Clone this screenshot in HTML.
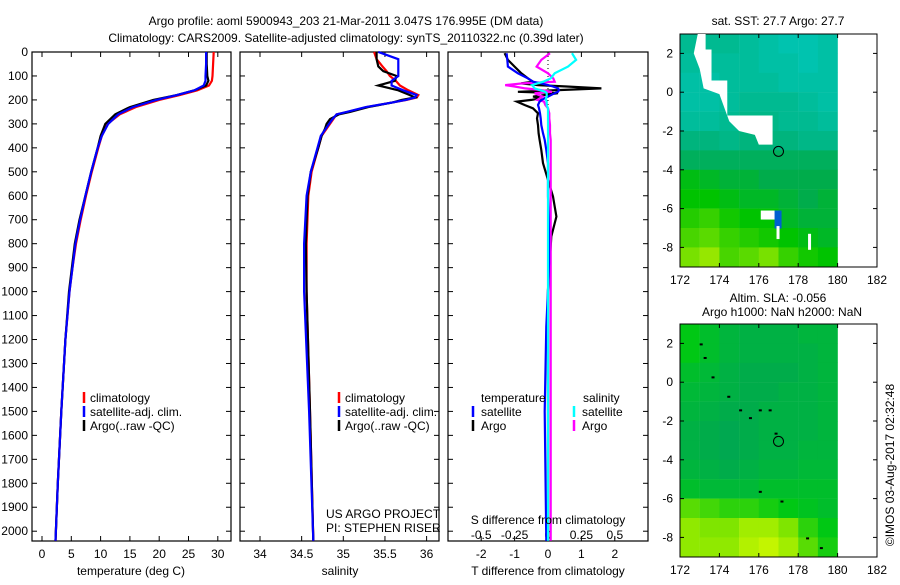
<!DOCTYPE html>
<html><head><meta charset="utf-8"><style>
body{margin:0;background:#fff;}
svg text{font-family:"Liberation Sans",sans-serif;font-size:12px;fill:#000;}
</style></head><body>
<svg id="s" width="900" height="580" xmlns="http://www.w3.org/2000/svg">
<text x="346" y="25" text-anchor="middle">Argo profile: aoml 5900943_203 21-Mar-2011 3.047S 176.995E (DM data)</text>
<text x="346" y="42" text-anchor="middle">Climatology: CARS2009. Satellite-adjusted climatology: synTS_20110322.nc (0.39d later)</text>
</svg>
<script>
// ---------- data ----------
const tDepth=[0,50,100,120,140,160,180,200,230,260,300,350,400,500,600,700,800,900,1000,1200,1500,1800,2040];
const tClim=[29.3,29.2,29.1,29.0,28.5,26.5,23.5,20,16,13.3,11.2,10.2,9.6,8.5,7.5,6.6,5.8,5.2,4.7,4.0,3.3,2.7,2.3];
const tSat=[28.0,28.0,27.9,27.9,27.6,26,23,19.5,15.5,13,11.3,10.2,9.5,8.4,7.4,6.5,5.7,5.2,4.7,4.0,3.3,2.7,2.3];
const tArgo=[28.1,28.1,28.2,28.4,28.0,26,23,19,15,12.5,10.8,10.0,9.5,8.4,7.4,6.4,5.6,5.1,4.6,4.0,3.3,2.7,2.3];
const sDepth=[0,30,60,80,100,120,140,160,180,190,200,210,230,250,260,280,300,320,350,400,500,600,800,1000,1500,2040];
const sClim=[35.37,35.40,35.47,35.52,35.56,35.63,35.68,35.78,35.9,35.88,35.76,35.6,35.28,35.05,34.92,34.88,34.84,34.80,34.74,34.70,34.62,34.58,34.56,34.56,34.60,34.64];
const sSat=[35.42,35.66,35.66,35.66,35.66,35.58,35.58,35.72,35.88,35.86,35.75,35.6,35.27,35.04,34.92,34.87,34.83,34.79,34.73,34.69,34.61,34.56,34.53,34.53,34.59,34.64];
const sArgo=[35.40,35.40,35.42,35.48,35.64,35.62,35.42,35.66,35.80,35.86,35.7,35.6,35.3,35.08,34.95,34.84,34.80,34.78,34.74,34.70,34.61,34.57,34.55,34.56,34.60,34.64];
const dDepth=[5,33,61,89,110,124,131,138,144,152,159,166,172,186,193,200,207,221,235,256,277,305,339,367,409,464,603,687,770,882,993,1146,1500,2040];
const dTSat=[-1.24,-1.22,-1.2,-0.9,-0.6,-0.45,-0.2,0.0,0.15,0.3,0.33,0.3,0.2,0.0,-0.1,-0.19,-0.25,-0.3,-0.27,-0.24,-0.22,-0.2,-0.15,-0.1,-0.05,0.0,0.0,0.02,0.03,0.03,0.0,-0.05,-0.1,-0.05];
const dTArgo=[-1.3,-1.2,-1.0,-0.8,-0.6,-0.45,-0.8,-0.3,0.56,1.6,0.3,-0.9,0.3,-0.45,-0.2,-0.5,-0.93,-0.7,-0.45,-0.3,-0.33,-0.3,-0.28,-0.25,-0.2,-0.15,0.15,0.25,0.1,0.05,0.0,0.0,0.0,0.0];
const dSSat=[0.18,0.21,0.15,0.05,0.02,-0.035,-0.08,-0.12,-0.11,-0.1,-0.06,-0.02,-0.01,-0.01,-0.015,-0.015,-0.01,-0.01,0.0,0.0,0.0,0.0,0.0,0.0,0.0,0.0,0.0,0.0,0.0,0.0,0.0,0.0,0.0,0.0];
const dSArgo=[0.015,-0.05,-0.085,0.0,0.04,0.05,-0.19,-0.32,-0.25,-0.17,-0.05,0.03,-0.1,-0.04,-0.06,-0.08,-0.03,-0.02,0.0,0.01,0.01,0.015,0.015,0.02,0.02,0.02,0.02,0.02,0.02,0.02,0.02,0.02,0.02,0.02];
const depthTicks=[0,100,200,300,400,500,600,700,800,900,1000,1100,1200,1300,1400,1500,1600,1700,1800,1900,2000];
const tTicks=[0,5,10,15,20,25,30];
const sTicks=["34","34.5","35","35.5","36"];
const dTTicks=[-2,-1,0,1,2];
const dSTickLabels=["-0.5","-0.25","0","0.25","0.5"];
const lonTicks=[172,174,176,178,180,182];
const latTicks=[2,0,-2,-4,-6,-8];
const sstGrid=[
[28.0,28.0,28.0,27.9,27.8,27.7,27.7,27.8],
[27.9,27.9,27.9,27.9,27.8,27.8,27.7,27.8],
[27.8,27.8,27.9,27.9,27.9,27.8,27.8,27.8],
[27.8,27.8,27.9,28.0,28.0,28.0,27.9,27.8],
[27.9,27.9,28.0,28.1,28.1,28.0,28.0,27.9],
[28.2,28.2,28.1,28.2,28.2,28.2,28.1,28.1],
[28.4,28.4,28.4,28.4,28.4,28.4,28.4,28.4],
[28.8,28.7,28.6,28.6,28.5,28.5,28.5,28.5],
[28.9,28.9,28.8,28.7,28.7,28.6,28.5,28.6],
[29.1,29.2,29.0,28.9,28.9,28.7,28.6,28.6],
[29.3,29.4,29.2,29.1,29.0,28.9,28.8,28.7],
[29.5,29.6,29.3,29.4,29.5,29.2,29.0,28.9]];
const slaGrid=[
[0.0,-0.02,-0.04,-0.05,-0.05,-0.05,-0.04,-0.04],
[0.0,-0.02,-0.04,-0.05,-0.05,-0.05,-0.05,-0.04],
[-0.02,-0.03,-0.05,-0.06,-0.06,-0.06,-0.05,-0.04],
[-0.03,-0.04,-0.05,-0.06,-0.06,-0.05,-0.05,-0.04],
[-0.04,-0.05,-0.06,-0.06,-0.05,-0.05,-0.05,-0.04],
[-0.05,-0.06,-0.07,-0.06,-0.05,-0.05,-0.05,-0.04],
[-0.05,-0.06,-0.07,-0.06,-0.05,-0.05,-0.04,-0.04],
[-0.04,-0.05,-0.06,-0.05,-0.04,-0.04,-0.03,-0.03],
[-0.02,-0.03,-0.03,-0.03,-0.02,-0.02,-0.02,-0.02],
[0.04,0.03,0.02,0.02,0.01,0.0,-0.01,-0.02],
[0.07,0.06,0.06,0.08,0.08,0.06,0.02,0.0],
[0.07,0.07,0.07,0.09,0.10,0.08,0.04,0.01]];
const argoLon=[177.0], argoLat=[-3.05];

// ---------- helpers ----------
const S=document.getElementById('s'),NS='http://www.w3.org/2000/svg';
function mk(tag,at,parent){const e=document.createElementNS(NS,tag);for(const k in at)e.setAttribute(k,at[k]);(parent||S).appendChild(e);return e;}
function txt(x,y,s,anchor){const e=mk('text',{x:x,y:y,'text-anchor':anchor||'start'});e.textContent=s;return e;}
const yD=d=>52+d*0.2396;
const xT=t=>42+t*5.86;
const xS=s=>260+(s-34)*83.3;
const xDT=t=>548+t*33.4;
const xDS=s=>548+s*133.6;
function line(xs,ds,fx,col,name){
  const p=xs.map((v,i)=>fx(v).toFixed(1)+','+yD(ds[i]).toFixed(1)).join(' ');
  const e=mk('polyline',{points:p,fill:'none',stroke:col,'stroke-width':2.2});
  
  
}
function panel(x0,x1,name){
  const g=mk('rect',{x:x0,y:52,width:x1-x0,height:489,fill:'none',stroke:'#000','stroke-width':1.2});
  
  
  depthTicks.forEach(d=>{mk('line',{x1:x0,x2:x0+5,y1:yD(d),y2:yD(d),stroke:'#000'});mk('line',{x1:x1,x2:x1-5,y1:yD(d),y2:yD(d),stroke:'#000'});});
}
// ---------- panel 1 ----------
panel(32,231,'temperature-panel');
depthTicks.forEach(d=>{const t=txt(28,yD(d)+4,String(d),'end');});
tTicks.forEach(t=>{mk('line',{x1:xT(t),x2:xT(t),y1:541,y2:536,stroke:'#000'});mk('line',{x1:xT(t),x2:xT(t),y1:52,y2:57,stroke:'#000'});const e=txt(xT(t),558,String(t),'middle');});
line(tClim,tDepth,xT,'#f00','temp-climatology-line');
line(tArgo,tDepth,xT,'#000','temp-argo-line');
line(tSat,tDepth,xT,'#00f','temp-satellite-line');
let e=txt(131,575,'temperature (deg C)','middle');
function legend(x,items){items.forEach((it,i)=>{const y=398+i*14;mk('line',{x1:x,x2:x,y1:y-6,y2:y+5,stroke:it[1],'stroke-width':2.5});const t=txt(x+6,y+4,it[0]);});}
legend(84,[['climatology','#f00'],['satellite-adj. clim.','#00f'],['Argo(..raw -QC)','#000']]);
// ---------- panel 2 ----------
panel(240,439,'salinity-panel');
sTicks.forEach(s=>{const x=xS(+s);mk('line',{x1:x,x2:x,y1:541,y2:536,stroke:'#000'});mk('line',{x1:x,x2:x,y1:52,y2:57,stroke:'#000'});const t=txt(x,558,s,'middle');});
line(sClim,sDepth,xS,'#f00','sal-climatology-line');
line(sArgo,sDepth,xS,'#000','sal-argo-line');
line(sSat,sDepth,xS,'#00f','sal-satellite-line');
e=txt(340,575,'salinity','middle');
legend(339,[['climatology','#f00'],['satellite-adj. clim.','#00f'],['Argo(..raw -QC)','#000']]);
e=txt(326,518,'US ARGO PROJECT');
e=txt(326,532,'PI: STEPHEN RISER');
// ---------- panel 3 ----------
panel(448,648,'difference-panel');
mk('line',{x1:548,x2:548,y1:52,y2:160,stroke:'#000','stroke-dasharray':'1,3'});
dTTicks.forEach(t=>{const x=xDT(t);mk('line',{x1:x,x2:x,y1:541,y2:536,stroke:'#000'});mk('line',{x1:x,x2:x,y1:52,y2:57,stroke:'#000'});const l=txt(x,558,String(t),'middle');});
dSTickLabels.forEach(s=>{const l=txt(xDS(+s),539,s,'middle');});
line(dTArgo,dDepth,xDT,'#000','t-diff-argo-line');
line(dSArgo,dDepth,xDS,'#f0f','s-diff-argo-line');
line(dTSat,dDepth,xDT,'#00f','t-diff-satellite-line');
line(dSSat,dDepth,xDS,'#0ff','s-diff-satellite-line');
e=txt(548,524,'S difference from climatology','middle');
e=txt(548,575,'T difference from climatology','middle');
e=txt(481,402,'temperature');
e=txt(583,402,'salinity');
[[473,'satellite','#00f',416],[473,'Argo','#000',430],[574,'satellite','#0ff',416],[574,'Argo','#f0f',430]].forEach(a=>{mk('line',{x1:a[0],x2:a[0],y1:a[3]-10,y2:a[3]+1,stroke:a[2],'stroke-width':2.5});const t=txt(a[0]+8,a[3],a[1]);});
// ---------- maps ----------
function lerpColor(stops,v){if(v<=stops[0][0])return stops[0][1];for(let i=1;i<stops.length;i++){if(v<=stops[i][0]){const a=stops[i-1],b=stops[i],f=(v-a[0])/(b[0]-a[0]);return 'rgb('+a[1].map((c,j)=>Math.round(c+(b[1][j]-c)*f)).join(',')+')';}}const l=stops[stops.length-1][1];return 'rgb('+l.join(',')+')';}
function rgb(a){return Array.isArray(a)?'rgb('+a.join(',')+')':a;}
const sstStops=[[27.7,[0,195,175]],[28.2,[0,180,125]],[28.5,[0,172,75]],[28.9,[0,195,0]],[29.4,[90,218,0]],[29.7,[180,238,0]]];
const slaStops=[[-0.07,[0,168,80]],[-0.03,[0,185,55]],[0.0,[0,200,20]],[0.05,[110,225,0]],[0.1,[195,245,0]]];
function map(top,grid,stops,name){
  const lx=lon=>680+(lon-172)*19.7, ly=lat=>top+(3-lat)*19.4;
  const g=mk('g',{});
  grid.forEach((row,r)=>row.forEach((v,c)=>{const cell=mk('rect',{x:lx(172+c),y:ly(3-r),width:19.9,height:19.6,fill:rgb(lerpColor(stops,v))},g);}));
  mk('rect',{x:680,y:top,width:197,height:233,fill:'none',stroke:'#000'});
  lonTicks.forEach(l=>{mk('line',{x1:lx(l),x2:lx(l),y1:top+233,y2:top+229,stroke:'#000'});mk('line',{x1:lx(l),x2:lx(l),y1:top,y2:top+4,stroke:'#000'});const t=txt(lx(l),top+250,String(l),'middle');});
  latTicks.forEach(l=>{mk('line',{x1:680,x2:684,y1:ly(l),y2:ly(l),stroke:'#000'});mk('line',{x1:877,x2:873,y1:ly(l),y2:ly(l),stroke:'#000'});const t=txt(673,ly(l)+4,String(l),'end');});
  const c=mk('circle',{cx:lx(argoLon[0]),cy:ly(argoLat[0]),r:5,fill:'none',stroke:'#000'});
  return {lx,ly};
}
let m=map(34,sstGrid,sstStops,'sst-map');
const land=[[172.9,3],[173.3,3],[173.3,2.2],[173.6,2.2],[173.6,0.6],[174.4,0.6],[174.4,-1.2],[176.7,-1.2],[176.7,-2.7],[176.0,-2.7],[175.8,-2.2],[175.0,-2.0],[174.5,-1.5],[174.0,-0.1],[173.2,0.2],[173.0,1.2],[172.7,2.0],[172.9,3]];
e=mk('polygon',{points:land.map(p=>m.lx(p[0])+','+m.ly(p[1])).join(' '),fill:'#fff'});
mk('rect',{x:m.lx(176.1),y:m.ly(-6.1),width:18,height:9,fill:'#fff'});
mk('rect',{x:m.lx(176.8),y:m.ly(-6.1),width:7,height:18,fill:'#0060d0'});
mk('rect',{x:m.lx(176.9),y:m.ly(-6.9),width:3,height:13,fill:'#fff'});
mk('rect',{x:m.lx(178.5),y:m.ly(-7.3),width:3,height:16,fill:'#fff'});
e=txt(778,25,'sat. SST: 27.7 Argo: 27.7','middle');
m=map(324,slaGrid,slaStops,'sla-map');
[[173,2],[173.2,1.3],[173.6,0.3],[174.4,-0.7],[175,-1.4],[175.5,-1.8],[176,-1.4],[176.5,-1.4],[176.8,-2.6],[176,-5.6],[177.1,-6.1],[178.4,-8.0],[179.1,-8.5]].forEach(p=>{mk('rect',{x:m.lx(p[0]),y:m.ly(p[1]),width:3,height:2,fill:'#000'});});
e=txt(778,302,'Altim. SLA: -0.056','middle');
e=txt(782,316,'Argo h1000: NaN h2000: NaN','middle');
e=txt(0,0,'©IMOS 03-Aug-2017 02:32:48','middle');e.setAttribute('transform','translate(894,465) rotate(-90)');
</script>
</body></html>
